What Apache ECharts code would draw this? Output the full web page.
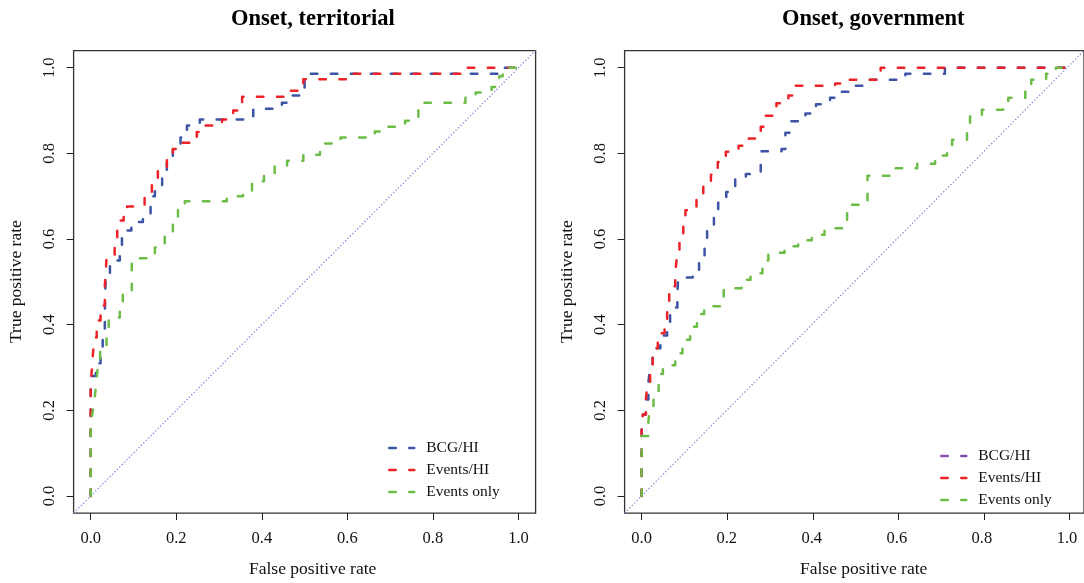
<!DOCTYPE html>
<html>
<head>
<meta charset="utf-8">
<script src="https://cdn.jsdelivr.net/npm/echarts@6/dist/echarts.min.js"></script>
<style>
  html, body { margin: 0; padding: 0; background: #fff; }
  #chart { width: 1084px; height: 583px; }
</style>
</head>
<body>
<div id="chart"></div>
<script>
// Axis ticks shared by both panels
const tickValues = [0, 0.2, 0.4, 0.6, 0.8, 1.0];
const tickStep = 0.2;
const panelTitles = ['Onset, territorial', 'Onset, government'];
const seriesNames = ['BCG/HI', 'Events/HI', 'Events only'];

// ROC points [false positive rate, true positive rate] — onset, territorial
const territorialBCG = [
  [0, 0], [0, 0.26], [0.004, 0.28], [0.012, 0.31], [0.023, 0.345], [0.028, 0.385],
  [0.033, 0.43], [0.035, 0.51], [0.045, 0.55], [0.068, 0.57], [0.073, 0.62], [0.095, 0.64],
  [0.122, 0.66], [0.14, 0.70], [0.15, 0.72], [0.167, 0.75], [0.178, 0.785], [0.192, 0.815],
  [0.21, 0.837], [0.225, 0.865], [0.255, 0.879], [0.38, 0.904], [0.447, 0.918], [0.47, 0.935],
  [0.50, 0.986], [0.96, 1.0], [1, 1]
];
const territorialEventsHI = [
  [0, 0], [0, 0.26], [0.003, 0.30], [0.005, 0.33], [0.009, 0.37], [0.014, 0.41],
  [0.023, 0.445], [0.033, 0.49], [0.037, 0.555], [0.056, 0.60], [0.062, 0.643], [0.077, 0.66],
  [0.085, 0.676], [0.126, 0.70], [0.143, 0.73], [0.157, 0.76], [0.178, 0.79], [0.192, 0.81],
  [0.21, 0.825], [0.248, 0.85], [0.262, 0.865], [0.307, 0.879], [0.333, 0.90], [0.354, 0.932],
  [0.466, 0.946], [0.497, 0.973], [0.607, 0.986], [0.864, 1.0], [1, 1]
];
const territorialEventsOnly = [
  [0, 0], [0, 0.155], [0.002, 0.18], [0.005, 0.20], [0.009, 0.225], [0.013, 0.265],
  [0.017, 0.305], [0.022, 0.35], [0.037, 0.38], [0.042, 0.417], [0.068, 0.44], [0.075, 0.475],
  [0.096, 0.555], [0.133, 0.565], [0.15, 0.58], [0.173, 0.615], [0.192, 0.645], [0.204, 0.674],
  [0.22, 0.688], [0.318, 0.70], [0.356, 0.71], [0.377, 0.735], [0.405, 0.75], [0.43, 0.77],
  [0.459, 0.783], [0.497, 0.797], [0.536, 0.81], [0.548, 0.823], [0.584, 0.837], [0.664, 0.851],
  [0.694, 0.862], [0.735, 0.876], [0.766, 0.918], [0.876, 0.93], [0.9, 0.942], [0.937, 0.955],
  [0.955, 0.98], [0.963, 1.0], [1, 1]
];

// ROC points — onset, government
const governmentBCG = [
  [0, 0], [0, 0.16], [0.003, 0.19], [0.01, 0.225], [0.016, 0.265], [0.02, 0.305],
  [0.026, 0.345], [0.044, 0.375], [0.06, 0.405], [0.067, 0.44], [0.084, 0.47], [0.086, 0.51],
  [0.12, 0.525], [0.135, 0.555], [0.148, 0.585], [0.154, 0.625], [0.17, 0.655], [0.18, 0.685],
  [0.199, 0.71], [0.22, 0.74], [0.245, 0.752], [0.28, 0.77], [0.282, 0.805], [0.329, 0.81],
  [0.338, 0.848], [0.352, 0.875], [0.385, 0.893], [0.41, 0.915], [0.443, 0.93], [0.465, 0.944],
  [0.5, 0.958], [0.531, 0.972], [0.62, 0.986], [0.713, 1.0], [1, 1]
];
const governmentEventsHI = [
  [0, 0], [0, 0.16], [0.003, 0.19], [0.01, 0.225], [0.014, 0.265], [0.02, 0.305],
  [0.026, 0.345], [0.038, 0.38], [0.054, 0.41], [0.06, 0.45], [0.065, 0.49], [0.079, 0.52],
  [0.083, 0.56], [0.089, 0.60], [0.098, 0.635], [0.103, 0.667], [0.129, 0.697], [0.145, 0.725],
  [0.163, 0.75], [0.179, 0.78], [0.198, 0.804], [0.228, 0.818], [0.252, 0.835], [0.28, 0.862],
  [0.29, 0.888], [0.317, 0.917], [0.345, 0.935], [0.362, 0.958], [0.455, 0.963], [0.487, 0.972],
  [0.562, 1.0], [1, 1]
];
const governmentEventsOnly = [
  [0, 0], [0, 0.14], [0.016, 0.175], [0.02, 0.21], [0.028, 0.245], [0.04, 0.285],
  [0.05, 0.305], [0.079, 0.333], [0.096, 0.365], [0.114, 0.395], [0.13, 0.425], [0.147, 0.443],
  [0.184, 0.465], [0.193, 0.485], [0.235, 0.505], [0.256, 0.52], [0.284, 0.55], [0.298, 0.568],
  [0.336, 0.583], [0.368, 0.597], [0.4, 0.61], [0.43, 0.625], [0.473, 0.645], [0.483, 0.68],
  [0.524, 0.69], [0.531, 0.748], [0.594, 0.765], [0.648, 0.776], [0.69, 0.795], [0.718, 0.81],
  [0.73, 0.832], [0.765, 0.862], [0.772, 0.886], [0.8, 0.902], [0.85, 0.912], [0.862, 0.93],
  [0.902, 0.955], [0.916, 0.972], [0.951, 0.986], [0.974, 1.0], [1, 1]
];

// Chance line, drawn across the whole plotting frame
const chanceLine = [[-0.04, -0.04], [1.04, 1.04]];

const COLORS = { bcg: '#3c53a6', eventsHI: '#ec2227', eventsOnly: '#6bbd47', bcgKey: '#8651b0', chance: '#7f88d6' };
const SERIF = '"Liberation Serif", "Times New Roman", serif';
const DASH = [6.5, 13.5];

// Frame geometry: the plotting frame pads the unit square by 4% on every side
const PAD = 0.04;
const TICK_LEN = 7;
const FRAME = { top: 50.6, width: 462, height: 462.5 };
const unitW = FRAME.width / (1 + 2 * PAD);
const unitH = FRAME.height / (1 + 2 * PAD);
const padX = unitW * PAD;
const padY = unitH * PAD;

const chart = echarts.init(document.getElementById('chart'), null, { renderer: 'canvas' });

const panels = [
  { left: 73.6, title: panelTitles[0], titleX: 231, data: [territorialBCG, territorialEventsHI, territorialEventsOnly] },
  { left: 624.6, title: panelTitles[1], titleX: 782, data: [governmentBCG, governmentEventsHI, governmentEventsOnly] }
];
const panelOffset = panels[1].left - panels[0].left;

const grids = [];
const xAxes = [];
const yAxes = [];

function hiddenAxis(gridIndex, min, max) {
  return { type: 'value', gridIndex, min, max, show: false };
}
// Axis whose split lines, inside a thin strip outside the frame, form the tick marks
function tickStripAxis(gridIndex) {
  return {
    type: 'value', gridIndex, min: 0, max: 1, interval: tickStep,
    axisLine: { show: false }, axisTick: { show: false }, axisLabel: { show: false },
    splitLine: { show: true, lineStyle: { color: '#222', width: 1 } }
  };
}
function labelAxis(gridIndex, isY) {
  return {
    type: 'value', gridIndex, min: -PAD, max: 1 + PAD,
    position: isY ? 'left' : 'bottom',
    axisLine: { show: false, onZero: false },
    splitLine: { show: false },
    axisTick: { show: false },
    axisLabel: {
      customValues: tickValues,
      formatter: v => v.toFixed(1),
      fontFamily: SERIF, fontSize: 16.5, color: '#111',
      margin: isY ? 15 : 17,
      rotate: isY ? 90 : 0
    }
  };
}

panels.forEach(p => {
  // framed box: holds the curves and the tick labels
  const gBox = grids.length;
  grids.push({
    left: p.left, top: FRAME.top, width: FRAME.width, height: FRAME.height, show: true,
    borderColor: '#333', borderWidth: 1.3, backgroundColor: 'transparent'
  });
  p.axisIndex = xAxes.length;
  xAxes.push(labelAxis(gBox, false));
  yAxes.push(labelAxis(gBox, true));

  // strip under the frame for x ticks
  const gXT = grids.length;
  grids.push({ left: p.left + padX, top: FRAME.top + FRAME.height, width: unitW, height: TICK_LEN, show: false });
  xAxes.push(tickStripAxis(gXT));
  yAxes.push(hiddenAxis(gXT, 0, 1));

  // strip left of the frame for y ticks
  const gYT = grids.length;
  grids.push({ left: p.left - TICK_LEN, top: FRAME.top + padY, width: TICK_LEN, height: unitH, show: false });
  xAxes.push(hiddenAxis(gYT, 0, 1));
  yAxes.push(tickStripAxis(gYT));
});

function rocSeries(name, data, color, idx) {
  return {
    type: 'line', name, data, xAxisIndex: idx, yAxisIndex: idx,
    step: 'end', symbol: 'none', silent: true, animation: false,
    lineStyle: { color, width: 2.5, type: DASH, cap: 'round', join: 'round' },
    itemStyle: { color }
  };
}

const series = [];
panels.forEach(p => {
  const a = p.axisIndex;
  series.push({
    type: 'line', data: chanceLine, xAxisIndex: a, yAxisIndex: a, symbol: 'none', silent: true,
    animation: false, lineStyle: { color: COLORS.chance, width: 1.2, type: [1.4, 2] }
  });
  series.push(rocSeries(seriesNames[0], p.data[0], COLORS.bcg, a));
  series.push(rocSeries(seriesNames[1], p.data[1], COLORS.eventsHI, a));
  series.push(rocSeries(seriesNames[2], p.data[2], COLORS.eventsOnly, a));
});

function legendFor(left, top, keyColors) {
  return {
    orient: 'vertical', left, top, itemWidth: 25, itemHeight: 14, itemGap: 6,
    selectedMode: false,
    textStyle: { fontFamily: SERIF, fontSize: 15.5, color: '#111', padding: [0, 0, 0, 7] },
    data: seriesNames.map((n, k) => ({
      name: n,
      lineStyle: { color: keyColors[k], width: 2.5, type: DASH, cap: 'round' },
      itemStyle: { color: keyColors[k], opacity: 0, borderWidth: 0 }
    }))
  };
}

const graphic = [];
panels.forEach((p, i) => {
  const dx = i * panelOffset;
  graphic.push({
    type: 'text', x: p.titleX, y: 19.5, silent: true,
    style: { text: p.title, font: 'bold 22.5px ' + SERIF, fill: '#000', textAlign: 'left', textVerticalAlign: 'middle' }
  });
  graphic.push({
    type: 'text', x: 249 + dx, y: 569, silent: true,
    style: { text: 'False positive rate', font: '17.5px ' + SERIF, fill: '#111', textAlign: 'left', textVerticalAlign: 'middle' }
  });
  graphic.push({
    type: 'text', x: 16 + dx, y: 343, rotation: Math.PI / 2, silent: true,
    style: { text: 'True positive rate', font: '17.5px ' + SERIF, fill: '#111', textAlign: 'left', textVerticalAlign: 'middle' }
  });
});

chart.setOption({
  animation: false,
  backgroundColor: '#fff',
  grid: grids,
  xAxis: xAxes,
  yAxis: yAxes,
  legend: [
    legendFor(383, 435, [COLORS.bcg, COLORS.eventsHI, COLORS.eventsOnly]),
    legendFor(935, 443, [COLORS.bcgKey, COLORS.eventsHI, COLORS.eventsOnly])
  ],
  graphic,
  series
});
</script>
</body>
</html>
